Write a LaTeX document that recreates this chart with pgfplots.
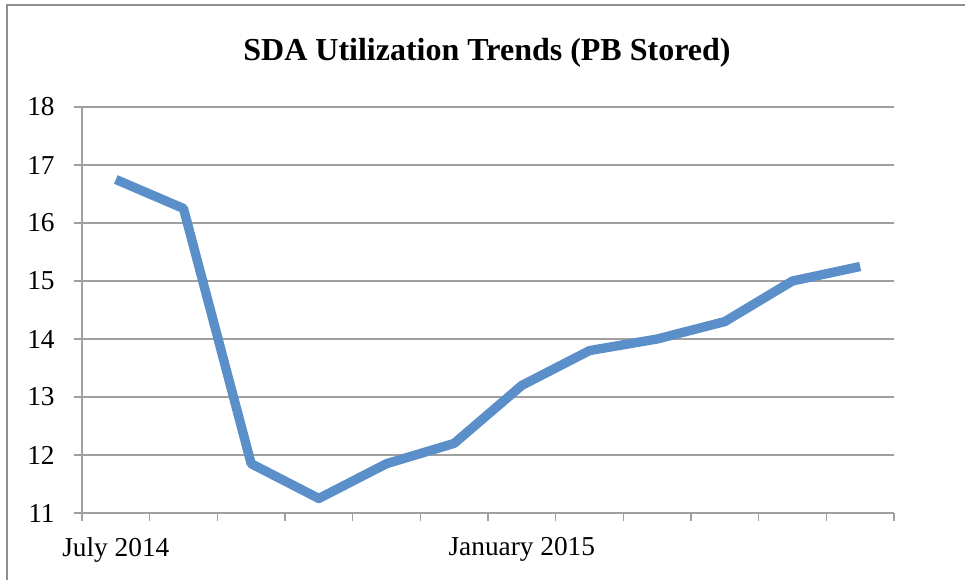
\documentclass[border=0pt]{standalone}
\usepackage{pgfplots}
\pgfplotsset{compat=1.18}
\usepackage{fontspec}
\setmainfont{Liberation Serif}
\definecolor{lineblue}{HTML}{5B8FC9}
\definecolor{gridgray}{HTML}{A0A0A0}
\definecolor{framegray}{HTML}{8E8E8E}

\pgfplotstableread{
x y
0 16.75
1 16.25
2 11.85
3 11.25
4 11.85
5 12.2
6 13.2
7 13.8
8 14.0
9 14.3
10 15.0
11 15.25
}\sdadata

\begin{document}
\begin{tikzpicture}[x=0.75pt,y=0.75pt]
\useasboundingbox (0,0) rectangle (965,580);
% chart frame (only left and top edges show in the crop)
\draw[framegray,line width=1.1pt] (7,-5) -- (7,575) -- (970,575);
\node[font=\fontsize{24}{28}\selectfont\bfseries] at (487,527) {SDA Utilization Trends (PB Stored)};
\begin{axis}[
    at={(61.5pt,50.25pt)}, anchor=south west,
    scale only axis,
    width=609pt, height=304.5pt,
    xmin=-0.5, xmax=11.5,
    ymin=11, ymax=18,
    ytick={11,12,...,18},
    xtick={-0.5,0.5,...,11.5},
    xticklabels={},
    extra x ticks={0,6},
    extra x tick labels={July 2014,January 2015},
    extra x tick style={major tick length=0pt, grid=none},
    ymajorgrids,
    major grid style={gridgray,line width=1.1pt},
    axis line style={gridgray,line width=1.1pt},
    axis x line*=bottom,
    axis y line*=left,
    tick style={gridgray,line width=1.1pt},
    tick align=outside,
    major tick length=6pt,
    /pgf/number format/assume math mode=true,
    tick label style={font=\fontsize{20.5}{24}\selectfont},
    yticklabel style={xshift=-11pt},
    xticklabel style={yshift=-15pt},
]
\addplot[lineblue, line width=7pt, line join=round, no marks] table[x=x,y=y] {\sdadata};
\end{axis}
\end{tikzpicture}
\end{document}
